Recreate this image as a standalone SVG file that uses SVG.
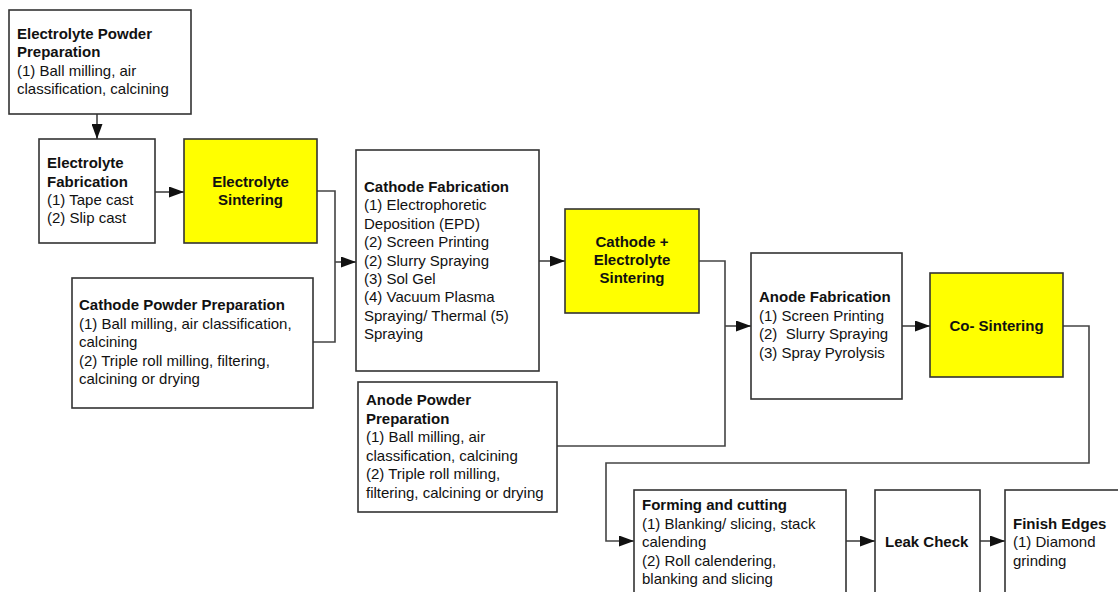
<svg xmlns="http://www.w3.org/2000/svg" width="1118" height="592" viewBox="0 0 1118 592">
  <style>
    .box { fill: #ffffff; stroke: #333333; stroke-width: 1.6; }
    .hot { fill: #ffff00; stroke: #333333; stroke-width: 1.6; }
    text { font-family: "Liberation Sans", Arial, sans-serif; font-size: 15px; fill: #111111; }
    .b { font-weight: bold; }
    .c { text-anchor: middle; font-weight: bold; }
    .wire { fill: none; stroke: #444444; stroke-width: 1.6; }
  </style>
  <defs>
    <marker id="arrow" viewBox="0 0 15 11" refX="15" refY="5.5" markerWidth="15" markerHeight="11" markerUnits="userSpaceOnUse" orient="auto">
      <path d="M0,0 L15,5.5 L0,11 Z" fill="#111111"/>
    </marker>
  </defs>

  <rect width="1118" height="592" fill="#ffffff"/>

  <g id="connectors">
    <path class="wire" d="M97,114 V139" marker-end="url(#arrow)"/>
    <path class="wire" d="M155,192 H184" marker-end="url(#arrow)"/>
    <path class="wire" d="M317,191 H335 V342 H313"/>
    <path class="wire" d="M335,262 H356" marker-end="url(#arrow)"/>
    <path class="wire" d="M539,261 H565" marker-end="url(#arrow)"/>
    <path class="wire" d="M699,261 H725 V446 H557"/>
    <path class="wire" d="M725,326 H751" marker-end="url(#arrow)"/>
    <path class="wire" d="M902,326 H930" marker-end="url(#arrow)"/>
    <path class="wire" d="M1063,326 H1089 V463 H606 V541 H634" marker-end="url(#arrow)"/>
    <path class="wire" d="M846,541 H875" marker-end="url(#arrow)"/>
    <path class="wire" d="M980,541 H1005" marker-end="url(#arrow)"/>
  </g>

  <g id="electrolyte-powder">
    <rect class="box" x="9" y="10" width="182" height="104"/>
    <text x="17" y="39" class="b">Electrolyte Powder</text>
    <text x="17" y="57" class="b">Preparation</text>
    <text x="17" y="75.5">(1) Ball milling, air</text>
    <text x="17" y="94">classification, calcining</text>
  </g>

  <g id="electrolyte-fabrication">
    <rect class="box" x="39" y="139" width="116" height="104"/>
    <text x="47" y="168" class="b">Electrolyte</text>
    <text x="47" y="187" class="b">Fabrication</text>
    <text x="47" y="205">(1) Tape cast</text>
    <text x="47" y="223">(2) Slip cast</text>
  </g>

  <g id="electrolyte-sintering">
    <rect class="hot" x="184" y="139" width="133" height="104"/>
    <text x="250.5" y="187" class="c">Electrolyte</text>
    <text x="250.5" y="205" class="c">Sintering</text>
  </g>

  <g id="cathode-powder">
    <rect class="box" x="72" y="278" width="241" height="130"/>
    <text x="79" y="310" class="b">Cathode Powder Preparation</text>
    <text x="79" y="329">(1) Ball milling, air classification,</text>
    <text x="79" y="347">calcining</text>
    <text x="79" y="366">(2) Triple roll milling, filtering,</text>
    <text x="79" y="384">calcining or drying</text>
  </g>

  <g id="cathode-fabrication">
    <rect class="box" x="356" y="150" width="183" height="221"/>
    <text x="364" y="192" class="b">Cathode Fabrication</text>
    <text x="364" y="210.4">(1) Electrophoretic</text>
    <text x="364" y="228.8">Deposition (EPD)</text>
    <text x="364" y="247.2">(2) Screen Printing</text>
    <text x="364" y="265.6">(2) Slurry Spraying</text>
    <text x="364" y="284">(3) Sol Gel</text>
    <text x="364" y="302.4">(4) Vacuum Plasma</text>
    <text x="364" y="320.8">Spraying/ Thermal (5)</text>
    <text x="364" y="339.2">Spraying</text>
  </g>

  <g id="cathode-electrolyte-sintering">
    <rect class="hot" x="565" y="209" width="134" height="104"/>
    <text x="632" y="247" class="c">Cathode +</text>
    <text x="632" y="265" class="c">Electrolyte</text>
    <text x="632" y="283" class="c">Sintering</text>
  </g>

  <g id="anode-powder">
    <rect class="box" x="358" y="382" width="199" height="130"/>
    <text x="366" y="405" class="b">Anode Powder</text>
    <text x="366" y="423.5" class="b">Preparation</text>
    <text x="366" y="442">(1) Ball milling, air</text>
    <text x="366" y="460.5">classification, calcining</text>
    <text x="366" y="479">(2) Triple roll milling,</text>
    <text x="366" y="497.5">filtering, calcining or drying</text>
  </g>

  <g id="anode-fabrication">
    <rect class="box" x="751" y="253" width="151" height="146"/>
    <text x="759" y="302" class="b">Anode Fabrication</text>
    <text x="759" y="320.5">(1) Screen Printing</text>
    <text x="759" y="339">(2)&#160; Slurry Spraying</text>
    <text x="759" y="357.5">(3) Spray Pyrolysis</text>
  </g>

  <g id="co-sintering">
    <rect class="hot" x="930" y="273" width="133" height="104"/>
    <text x="996.5" y="331" class="c">Co- Sintering</text>
  </g>

  <g id="forming-cutting">
    <rect class="box" x="634" y="490" width="212" height="120"/>
    <text x="642" y="510" class="b">Forming and cutting</text>
    <text x="642" y="528.5">(1) Blanking/ slicing, stack</text>
    <text x="642" y="547">calending</text>
    <text x="642" y="565.5">(2) Roll calendering,</text>
    <text x="642" y="584">blanking and slicing</text>
  </g>

  <g id="leak-check">
    <rect class="box" x="875" y="490" width="105" height="120"/>
    <text x="885" y="547" class="b">Leak Check</text>
  </g>

  <g id="finish-edges">
    <rect class="box" x="1005" y="490" width="130" height="120"/>
    <text x="1013" y="528.5" class="b">Finish Edges</text>
    <text x="1013" y="547">(1) Diamond</text>
    <text x="1013" y="565.5">grinding</text>
  </g>
</svg>
